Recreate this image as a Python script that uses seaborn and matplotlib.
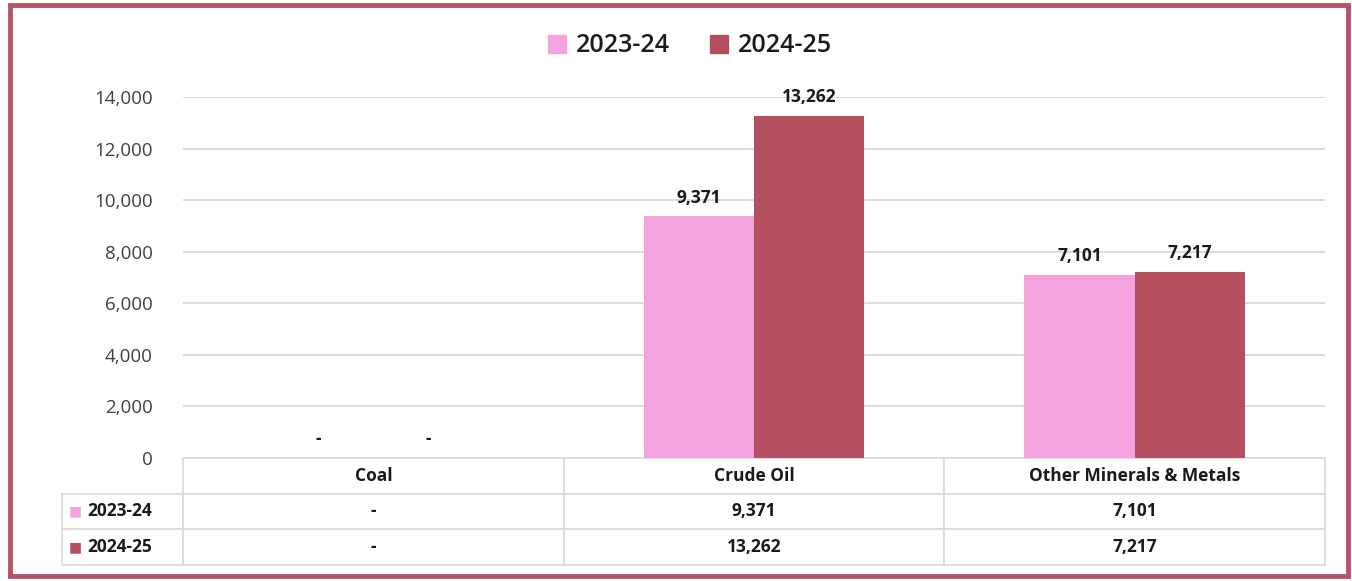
import pandas as pd
import numpy as np
import matplotlib.pyplot as plt
import seaborn as sns
from matplotlib.patches import Rectangle

# данные с графика
categories = ['Coal', 'Crude Oil', 'Other Minerals & Metals']
years = ['2023-24', '2024-25']
values_2023_24 = [0, 9371, 7101]
values_2024_25 = [0, 13262, 7217]
y_ticks = [0, 2000, 4000, 6000, 8000, 10000, 12000, 14000]

colors = ['#F5A3DF', '#B44F5F']
grid_color = '#D9D9D9'
text_color = '#1A1A1A'


def fmt(v):
    # нули в отчёте показаны прочерком
    return '-' if v == 0 else f'{v:,.0f}'


df = pd.DataFrame({
    'category': categories * 2,
    'year': [years[0]] * len(categories) + [years[1]] * len(categories),
    'value': values_2023_24 + values_2024_25,
})

sns.set_style('white')
plt.rcParams['font.family'] = ['Open Sans', 'DejaVu Sans']

W, H = 1352, 581
fig = plt.figure(figsize=(W / 100, H / 100), dpi=100)
ax = fig.add_axes([183 / W, 123 / H, 1142 / W, 361 / H])

sns.barplot(data=df, x='category', y='value', hue='year', hue_order=years,
            order=categories, palette=colors, saturation=1, width=0.58,
            errorbar=None, linewidth=0, ax=ax)
ax.get_legend().remove()

for cont, vals in zip(ax.containers, [values_2023_24, values_2024_25]):
    ax.bar_label(cont, labels=[fmt(v) for v in vals], padding=7,
                 fontsize=12.5, fontweight='bold', color=text_color)

ax.set_ylim(0, 14000)
ax.set_yticks(y_ticks)
ax.set_yticklabels([f'{v:,}' for v in y_ticks])
ax.tick_params(axis='y', length=0, pad=22, labelsize=13.5, labelcolor='#404040')
ax.tick_params(axis='x', bottom=False, labelbottom=False)
ax.set_xlabel('')
ax.set_ylabel('')
ax.yaxis.grid(True, color=grid_color, lw=1.3)
ax.set_axisbelow(True)
sns.despine(ax=ax, left=True, bottom=True)

# таблица данных под графиком
lab_w = 121 / 1142
tbl_h = 107 / 361
cell_text = [[''] + [fmt(v) for v in values_2023_24],
             [''] + [fmt(v) for v in values_2024_25]]
tbl = ax.table(cellText=cell_text, colLabels=[''] + categories,
               colWidths=[lab_w, 1 / 3, 1 / 3, 1 / 3], cellLoc='center',
               bbox=[-lab_w, -tbl_h, 1 + lab_w, tbl_h])
tbl.auto_set_font_size(False)
tbl.set_fontsize(12.5)
for (r, c), cell in tbl.get_celld().items():
    cell.set_edgecolor(grid_color)
    cell.set_linewidth(1.2)
    cell.get_text().set_fontweight('bold')
    cell.get_text().set_color(text_color)
tbl[0, 0].visible_edges = 'open'

row_h = tbl_h / 3
for i, (yr, col) in enumerate(zip(years, colors)):
    yc = -row_h * (i + 1.5)
    ax.text(-lab_w + 0.006, yc, '■', color=col, fontsize=10,
            ha='left', va='center', transform=ax.transAxes,
            family=['DejaVu Sans'])
    ax.text(-lab_w + 0.022, yc, yr, color=text_color, fontsize=12.5,
            fontweight='bold', ha='left', va='center', transform=ax.transAxes)

handles = [Rectangle((0, 0), 1, 1, color=c) for c in colors]
leg = fig.legend(handles, years, loc='center', bbox_to_anchor=(690 / W, 1 - 46 / H),
                 ncol=2, frameon=False, prop={'size': 18, 'weight': 'semibold'},
                 handlelength=0.7, handleheight=0.7, handletextpad=0.4,
                 columnspacing=1.6)
for t in leg.get_texts():
    t.set_color(text_color)

# рамка вокруг всей диаграммы
fig.patches.append(Rectangle((10 / W, 5 / H), 1338 / W, 571 / H,
                             transform=fig.transFigure, fill=False,
                             edgecolor='#B65467', lw=3.5))

fig.savefig('out.png', dpi=100)
